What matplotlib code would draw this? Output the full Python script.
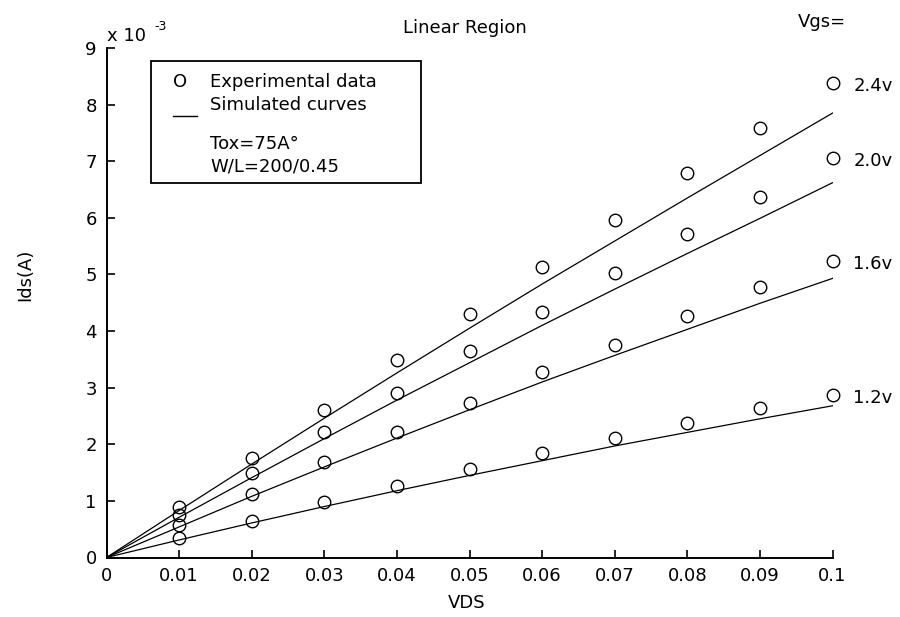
import matplotlib
matplotlib.use("Agg")
import matplotlib.pyplot as plt
from matplotlib.patches import Rectangle

plt.rcParams['font.family'] = ['DejaVu Sans']

# VDS values (V)
vds = [0.01, 0.02, 0.03, 0.04, 0.05, 0.06, 0.07, 0.08, 0.09, 0.10]
vds_sim = [0.0, 0.01, 0.02, 0.03, 0.04, 0.05, 0.06, 0.07, 0.08, 0.09, 0.10]

# Experimental Ids (x1e-3 A)
exp_24 = [0.89, 1.75, 2.61, 3.48, 4.30, 5.14, 5.96, 6.79, 7.59, 8.38]
exp_20 = [0.75, 1.50, 2.21, 2.91, 3.64, 4.33, 5.03, 5.71, 6.37, 7.05]
exp_16 = [0.57, 1.13, 1.69, 2.21, 2.73, 3.27, 3.75, 4.27, 4.77, 5.24]
exp_12 = [0.34, 0.65, 0.98, 1.26, 1.56, 1.85, 2.11, 2.37, 2.64, 2.87]

# Simulated Ids (x1e-3 A)
sim_24 = [0.0, 0.83, 1.65, 2.46, 3.26, 4.05, 4.83, 5.59, 6.35, 7.10, 7.85]
sim_20 = [0.0, 0.71, 1.41, 2.10, 2.78, 3.44, 4.10, 4.74, 5.37, 5.99, 6.62]
sim_16 = [0.0, 0.54, 1.08, 1.60, 2.11, 2.61, 3.10, 3.57, 4.03, 4.49, 4.93]
sim_12 = [0.0, 0.31, 0.61, 0.90, 1.18, 1.45, 1.71, 1.97, 2.21, 2.45, 2.68]

vgs_labels = ["2.4v", "2.0v", "1.6v", "1.2v"]

W, H = 900, 617
FS = 13
fig = plt.figure(figsize=(9, 6.17), dpi=100)
def fx(px): return px / W
def fy(py): return 1 - py / H

ax = fig.add_axes([fx(106.5), fy(557.5), fx(832.5) - fx(106.5), fy(48) - fy(557.5)])

exps = [exp_24, exp_20, exp_16, exp_12]
sims = [sim_24, sim_20, sim_16, sim_12]
for e, s, lab in zip(exps, sims, vgs_labels):
    ax.plot(vds_sim, s, color='black', lw=0.9)
    ax.plot(vds, e, linestyle='none', marker='o', ms=9, mfc='none',
            mec='black', mew=1.0, clip_on=False)
    ax.annotate(lab, xy=(vds[-1], e[-1]), xytext=(15, -2), textcoords='offset points',
                ha='left', va='center', fontsize=FS, annotation_clip=False)

ax.set_xlim(0, 0.1)
ax.set_ylim(0, 9)
ax.set_xticks([0, 0.01, 0.02, 0.03, 0.04, 0.05, 0.06, 0.07, 0.08, 0.09, 0.1])
ax.set_xticklabels(["0", "0.01", "0.02", "0.03", "0.04", "0.05", "0.06", "0.07", "0.08", "0.09", "0.1"])
ax.set_yticks(range(0, 10))
ax.set_yticklabels([str(i) for i in range(0, 10)])
ax.tick_params(direction='in', length=6, width=1.2, labelsize=FS, pad=7)
for side in ['top', 'right']:
    ax.spines[side].set_visible(False)
for side in ['left', 'bottom']:
    ax.spines[side].set_linewidth(1.4)

# axis labels and title
fig.text(fx(25), fy(275), "Ids(A)", rotation=90, ha='center', va='center', fontsize=FS)
fig.text(fx(466.7), fy(603), "VDS", ha='center', va='center', fontsize=FS)
fig.text(fx(465), fy(28), "Linear Region", ha='center', va='center', fontsize=FS)
fig.text(fx(822), fy(22), "Vgs=", ha='center', va='center', fontsize=FS)

# exponent
fig.text(fx(107), fy(36), "x 10", ha='left', va='center', fontsize=FS)
fig.text(fx(154), fy(26), "-3", ha='left', va='center', fontsize=9)

# legend box
rect = Rectangle((fx(150.7), fy(182.7)), fx(420.7) - fx(150.7), fy(61) - fy(182.7),
                 transform=fig.transFigure, fill=False, edgecolor='black', lw=1.3)
fig.patches.append(rect)
fig.text(fx(180), fy(81.7), "O", ha='center', va='center', fontsize=FS)
fig.text(fx(210), fy(81.7), "Experimental data", ha='left', va='center', fontsize=FS)
fig.text(fx(210), fy(105), "Simulated curves", ha='left', va='center', fontsize=FS)
fig.add_artist(plt.Line2D([fx(172.7), fx(196.7)], [fy(116), fy(116)],
                          transform=fig.transFigure, color='black', lw=1.0))
fig.text(fx(210), fy(144), "Tox=75A°", ha='left', va='center', fontsize=FS)
fig.text(fx(210), fy(166.7), "W/L=200/0.45", ha='left', va='center', fontsize=FS)

fig.savefig("out.png", dpi=100)
